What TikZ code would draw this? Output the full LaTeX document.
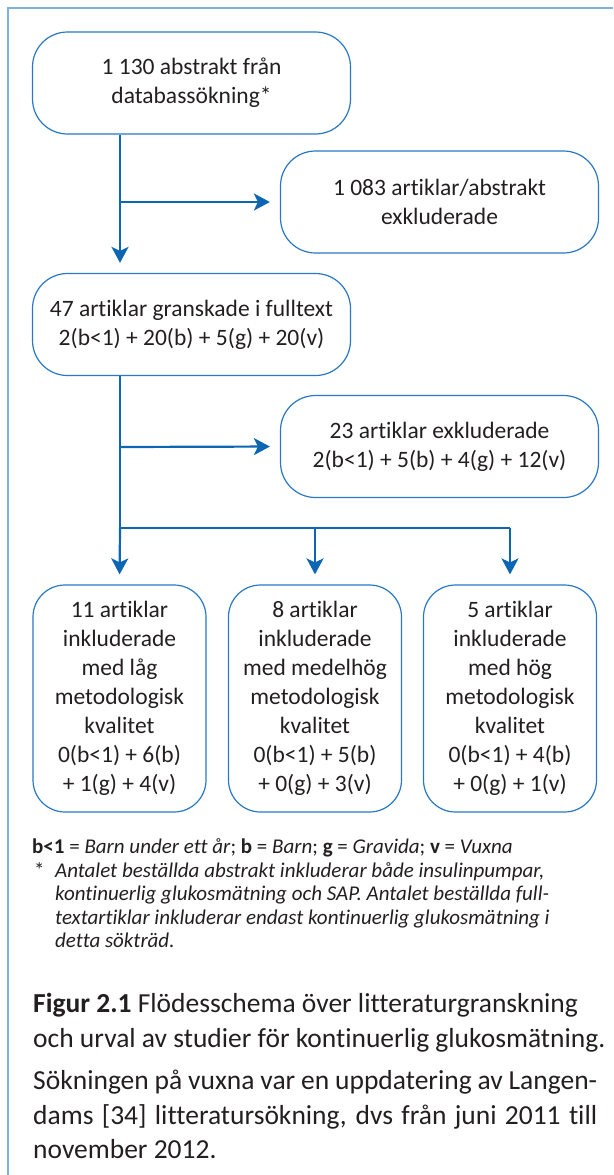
\documentclass[tikz,border=0pt]{standalone}
\usepackage{fontspec}
\setmainfont{Carlito}[Ligatures=NoCommon]
\usetikzlibrary{arrows.meta}
\definecolor{frameblue}{HTML}{7DB1E0}
\definecolor{boxblue}{HTML}{2878C4}
\definecolor{arrowblue}{HTML}{0C66B4}
\definecolor{ink}{HTML}{231F20}
\begin{document}
\begin{tikzpicture}[x=1pt, y=-1pt, text=ink,
  box/.style={draw=boxblue, line width=1.2pt, rounded corners=35pt, align=center,
    inner sep=0pt, font=\fontsize{23.5}{29}\selectfont},
  topbox/.style={box, minimum width=318pt, minimum height=102pt},
  lowbox/.style={box, rounded corners=32pt, minimum width=173pt, minimum height=227pt},
  line/.style={draw=arrowblue, line width=2.2pt},
  flow/.style={line, shorten >=10pt, -{Stealth[length=16pt,width=17pt,inset=4pt]}},
  txt/.style={anchor=base west, inner sep=0pt}]
\useasboundingbox (0,0) rectangle (613,1175);
\coordinate (TA) at (120,202); % first branch
\coordinate (TB) at (120,447); % second branch
\coordinate (FK) at (120,528); % fork
\draw[frameblue, line width=1.8pt] (8,1175) -- (8,8) -- (613,8);

\node[topbox] (abs) at (191.5,83) {1 130 abstrakt från\\databassökning*};
\node[topbox] (exc1) at (439.5,202) {1 083 artiklar/abstrakt\\exkluderade};
\node[topbox] (full) at (191.5,324.5) {47 artiklar granskade i fulltext\\2(b<1) + 20(b) + 5(g) + 20(v)};
\node[topbox] (exc2) at (439.5,446.5) {23 artiklar exkluderade\\2(b<1) + 5(b) + 4(g) + 12(v)};
\node[lowbox] (low) at (119.5,698.5) {11 artiklar\\inkluderade\\med låg\\metodologisk\\kvalitet\\0(b<1) + 6(b)\\+ 1(g) + 4(v)};
\node[lowbox] (mid) at (315,698.5) {8 artiklar\\inkluderade\\med medelhög\\metodologisk\\kvalitet\\0(b<1) + 5(b)\\+ 0(g) + 3(v)};
\node[lowbox] (high) at (510,698.5) {5 artiklar\\inkluderade\\med hög\\metodologisk\\kvalitet\\0(b<1) + 4(b)\\+ 0(g) + 1(v)};

\draw[flow] (abs.south -| TA) -- (full.north -| TA);
\draw[flow] (TA) -- (exc1.west);
\draw[line] (full.south -| TB) -- (FK) -- (FK -| high.north);
\draw[flow] (TB) -- (exc2.west);
\draw[flow] (FK) -- (low.north);
\draw[flow] (FK -| mid.north) -- (mid.north);
\draw[flow] (FK -| high.north) -- (high.north);

% footnotes
\begin{scope}[font=\fontsize{21}{23}\selectfont]
\node[txt] (key) at (32,853) {\textbf{b<1} = \textit{Barn under ett år}; \textbf{b} = \textit{Barn}; \textbf{g} = \textit{Gravida}; \textbf{v} = \textit{Vuxna}};
\node[txt] (star) at (34,877) {*};
\node[txt] (note1) at (55,877) {\itshape Antalet beställda abstrakt inkluderar både insulinpumpar,};
\node[txt] (note2) at (55,900) {\itshape kontinuerlig glukosmätning och SAP. Antalet beställda full-};
\node[txt] (note3) at (55,924) {\itshape textartiklar inkluderar endast kontinuerlig glukosmätning i};
\node[txt] (note4) at (55,947) {\itshape detta sökträd.};
\end{scope}

% caption
\begin{scope}[font=\fontsize{27.5}{34.5}\selectfont]
\node[txt] (cap1) at (33,1012) {\textbf{Figur 2.1} Flödesschema över litteraturgranskning};
\node[txt] (cap2) at (33,1047) {och urval av studier för kontinuerlig glukosmätning.};
\node[txt] (par1) at (33,1089) {\makebox[564pt][s]{Sökningen på vuxna var en uppdatering av Langen-}};
\node[txt] (par2) at (33,1124) {\makebox[564pt][s]{dams [34] litteratursökning, dvs från juni 2011 till}};
\node[txt] (par3) at (33,1158) {november 2012.};
\end{scope}
\end{tikzpicture}
\end{document}
